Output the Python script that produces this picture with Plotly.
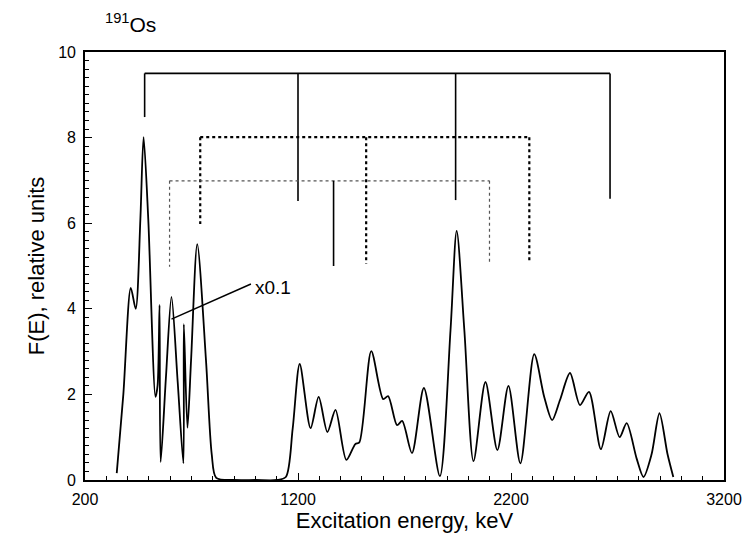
import plotly.graph_objects as go

# Spectrum F(E)
energy_kev = [349, 380, 415, 438, 460, 475, 497, 531, 541, 550, 555, 580, 606, 635, 662, 664, 681, 698, 727, 768, 795, 816,
              900, 1000, 1100, 1143, 1175, 1208, 1259, 1297, 1338, 1376, 1427, 1469, 1488, 1544, 1600, 1623, 1665, 1689,
              1735, 1791, 1866, 1916, 1945, 1981, 2024, 2080, 2136, 2188, 2244, 2309, 2356, 2393, 2430, 2477, 2524,
              2566, 2622, 2668, 2710, 2743, 2790, 2822, 2860, 2897, 2935, 2962]
f_values = [0.16, 2.0, 4.49, 4.0, 6.1, 8.01, 6.1, 1.94, 2.22, 4.09, 0.42, 2.4, 4.28, 2.3, 0.39, 3.64, 1.22, 2.8, 5.51, 2.8, 0.6, 0.05,
            0.0, 0.0, 0.0, 0.07, 1.2, 2.71, 1.21, 1.94, 1.12, 1.64, 0.47, 0.84, 0.88, 3.01, 1.89, 1.96, 1.28, 1.38,
            0.63, 2.15, 0.09, 3.5, 5.82, 3.5, 0.44, 2.29, 0.7, 2.2, 0.39, 2.94, 1.94, 1.4, 1.87, 2.5, 1.75,
            2.06, 0.72, 1.61, 1.0, 1.33, 0.5, 0.07, 0.6, 1.56, 0.6, 0.07]

# Bracket (level-scheme) markers
solid_x = [480, 1200, 1940, 2665]
solid_bottom = [8.48, 6.52, 6.54, 6.57]
solid_top = 9.5
bigdot_x = [741, 1520, 2286]
bigdot_bottom = [5.98, 5.05, 5.09]
bigdot_top = 8.01
finedot_x = [597, 1367, 2099]
finedot_bottom = [4.98, 5.0, 5.05]
finedot_top = 6.99

x_ticks = [200, 1200, 2200, 3200]
y_ticks = [0, 2, 4, 6, 8, 10]

FONT = "Liberation Sans, Arial, sans-serif"

fig = go.Figure()
fig.add_trace(go.Scatter(x=energy_kev, y=f_values, mode="lines",
                         line=dict(color="black", width=1.8, shape="spline", smoothing=0.8),
                         showlegend=False, hoverinfo="skip"))


def bracket(xs, bottoms, top, dash, width, color, mid_style=None):
    fig.add_trace(go.Scatter(x=[xs[0], xs[-1]], y=[top, top], mode="lines",
                             line=dict(color=color, width=width, dash=dash), showlegend=False, hoverinfo="skip"))
    for i, (xv, bv) in enumerate(zip(xs, bottoms)):
        d, w, c = dash, width, color
        if mid_style is not None and i == 1:
            d, w, c = mid_style
        fig.add_trace(go.Scatter(x=[xv, xv], y=[top, bv], mode="lines",
                                 line=dict(color=c, width=w, dash=d), showlegend=False, hoverinfo="skip"))


bracket(solid_x, solid_bottom, solid_top, "solid", 1.6, "black")
bracket(bigdot_x, bigdot_bottom, bigdot_top, "dot", 2.2, "black")
bracket(finedot_x, finedot_bottom, finedot_top, "dot", 1.2, "#555555", mid_style=("solid", 1.6, "black"))

# x0.1 pointer
fig.add_trace(go.Scatter(x=[606, 979], y=[3.76, 4.58], mode="lines",
                         line=dict(color="black", width=1.5), showlegend=False, hoverinfo="skip"))
fig.add_annotation(x=990, y=4.5, text="x0.1", showarrow=False, xanchor="left", yanchor="middle",
                   font=dict(family=FONT, size=19, color="black"))

fig.add_annotation(x=0.028, y=1.032, xref="paper", yref="paper", xanchor="left", yanchor="bottom",
                   text="<sup>191</sup>Os", showarrow=False,
                   font=dict(family=FONT, size=21, color="black"))

fig.update_layout(
    width=754, height=544,
    margin=dict(l=85, r=26, t=52, b=64),
    paper_bgcolor="white", plot_bgcolor="white",
    font=dict(family=FONT, color="black"),
    xaxis=dict(range=[200, 3200], tickvals=x_ticks, ticktext=[str(v) for v in x_ticks],
               ticks="inside", ticklen=7, tickwidth=1.3, tickcolor="black",
               minor=dict(dtick=100, ticks="inside", ticklen=4, tickcolor="black", tickwidth=1),
               showline=True, linecolor="black", linewidth=1.6, mirror=True, showgrid=False, zeroline=False,
               tickfont=dict(size=16, family=FONT), ticklabelstandoff=4,
               title=dict(text="Excitation energy, keV", font=dict(size=22, family=FONT), standoff=6)),
    yaxis=dict(range=[0, 10], tickvals=y_ticks,
               ticks="inside", ticklen=7, tickwidth=1.3, tickcolor="black",
               minor=dict(dtick=0.2, ticks="inside", ticklen=4, tickcolor="black", tickwidth=1),
               showline=True, linecolor="black", linewidth=1.6, mirror=True, showgrid=False, zeroline=False,
               tickfont=dict(size=16, family=FONT), ticklabelstandoff=4,
               title=dict(text="F(E), relative units", font=dict(size=22, family=FONT), standoff=8)),
)

fig.write_html("out.html")
